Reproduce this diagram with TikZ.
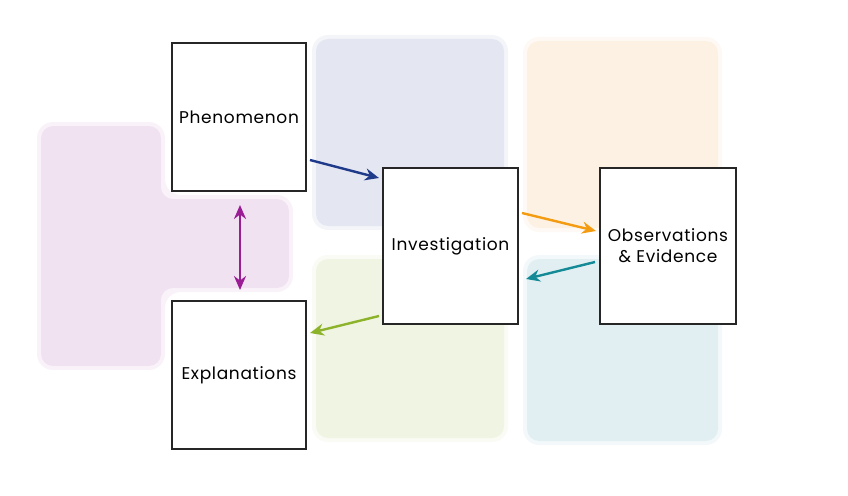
\documentclass[tikz,border=0pt]{standalone}
\usepackage{fontspec}
\setmainfont{Poppins}[LetterSpace=4]
\usetikzlibrary{arrows.meta,calc}
\definecolor{bgblue}{HTML}{E4E6F1}
\definecolor{bgorange}{HTML}{FDF1E3}
\definecolor{bggreen}{HTML}{F0F4E3}
\definecolor{bgteal}{HTML}{E2EFF2}
\definecolor{bgpurple}{HTML}{F1E2F1}
\definecolor{ablue}{HTML}{1F3A8A}
\definecolor{aorange}{HTML}{F39C12}
\definecolor{ateal}{HTML}{138A96}
\definecolor{agreen}{HTML}{8CB32A}
\definecolor{apurple}{HTML}{9B1D96}
\tikzset{
  box/.style={draw=black!85,line width=1.3pt,fill=white,minimum width=134pt,minimum height=148pt,font=\fontsize{17}{21}\selectfont,align=center,inner sep=0pt},
  conn/.style={line width=2.4pt,-{Stealth[length=14pt,width=12pt]}},
  bg/.style={rounded corners=12pt}
}
\newcommand{\softrect}[3]{%
  \fill[rounded corners=16pt,#1,opacity=0.4] ($#2+(-4,-4)$) rectangle ($#3+(4,4)$);
  \fill[bg,#1] #2 rectangle #3;}
\begin{document}
\begin{tikzpicture}[x=1pt,y=-1pt]
\useasboundingbox (0,0) rectangle (848,495);
\softrect{bgblue}{(316,39)}{(504,226)}
\softrect{bgorange}{(527,41)}{(718,228)}
\softrect{bggreen}{(316,259)}{(504,438)}
\softrect{bgteal}{(527,259)}{(718,441)}
\fill[bgpurple,opacity=0.4,rounded corners=16pt] (37,122) -- (165,122) -- (165,195) -- (293,195) -- (293,292) -- (165,292) -- (165,370) -- (37,370) -- cycle;
\fill[bgpurple,rounded corners=12pt] (41,126) -- (161,126) -- (161,199) -- (289,199) -- (289,288) -- (161,288) -- (161,366) -- (41,366) -- cycle;
\node[box] (phen) at (239,117) {Phenomenon};
\node[box] (expl) at (239,375) {Explanations};
\node[box,minimum width=135pt,minimum height=156pt] (inv) at (450.5,246) {Investigation};
\node[box,minimum width=136pt,minimum height=156pt] (obs) at (668,246) {Observations\\\& Evidence};
\coordinate (a1s) at (310,160); \coordinate (a1e) at (379,178);
\coordinate (a2s) at (522,213); \coordinate (a2e) at (596,231);
\coordinate (a3s) at (595,262); \coordinate (a3e) at (526,279);
\coordinate (a4s) at (379,316); \coordinate (a4e) at (310,333);
\coordinate (a5s) at (240,205); \coordinate (a5e) at (240,290);
\draw[conn,ablue] (a1s) -- (a1e);
\draw[conn,aorange] (a2s) -- (a2e);
\draw[conn,ateal] (a3s) -- (a3e);
\draw[conn,agreen] (a4s) -- (a4e);
\draw[conn,apurple,{Stealth[length=14pt,width=12pt]}-{Stealth[length=14pt,width=12pt]}] (a5s) -- (a5e);
\end{tikzpicture}
\end{document}
